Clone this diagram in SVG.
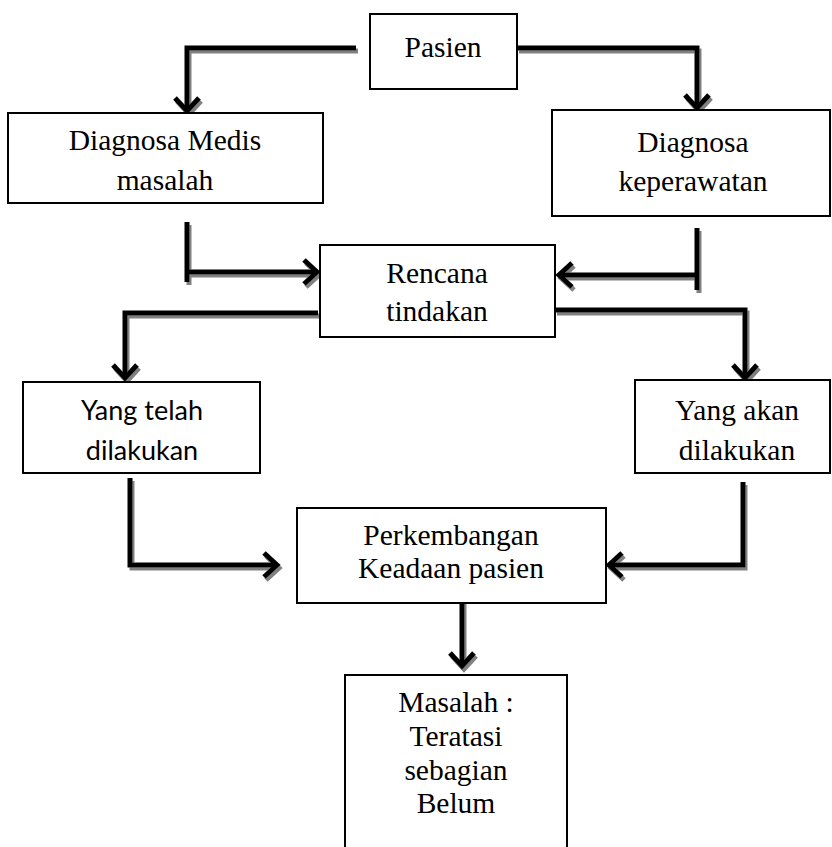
<svg xmlns="http://www.w3.org/2000/svg" width="832" height="847" viewBox="0 0 832 847">
<style>
.box{fill:#fff;stroke:#000;stroke-width:2}
.t{font-family:"Liberation Serif","Times New Roman",serif;font-size:29.5px;fill:#000;text-anchor:middle}
.s{font-family:Lato,"Open Sans",sans-serif;font-size:27px;fill:#000;text-anchor:middle}
.c path{fill:none;stroke:#000;stroke-width:5}
</style>
<defs>
<filter id="sh" x="-20%" y="-20%" width="140%" height="140%">
<feDropShadow dx="2" dy="3" stdDeviation="0.7" flood-color="#808080" flood-opacity="1"/>
</filter>
</defs>
<rect width="832" height="847" fill="#fff"/>
<g id="connectors" class="c" filter="url(#sh)">
<path d="M356,48 H187 V110"/><path d="M175,98 L187,111 L199,98"/>
<path d="M517,48 H697 V107"/><path d="M685,95 L697,108 L709,95"/>
<path d="M187,222 V282"/><path d="M187,272 H316"/><path d="M304,260 L317,272 L304,284"/>
<path d="M697,228 V290"/><path d="M697,275 H560"/><path d="M572,263 L559,275 L572,287"/>
<path d="M318,313 H125 V377"/><path d="M113,365 L125,378 L137,365"/>
<path d="M555,310 H745 V377"/><path d="M733,365 L745,378 L757,365"/>
<path d="M130,478 V565 H276"/><path d="M264,553 L277,565 L264,577"/>
<path d="M743,482 V565 H610"/><path d="M622,553 L609,565 L622,577"/>
<path d="M462,597 V665"/><path d="M450,653 L462,666 L474,653"/>
</g>
<g id="pasien"><rect class="box" x="370" y="14" width="147" height="75"/><text class="t" x="443" y="57">Pasien</text></g>
<g id="medis"><rect class="box" x="8" y="113" width="315" height="90"/><text class="t" x="165" y="150">Diagnosa Medis</text><text class="t" x="165" y="190">masalah</text></g>
<g id="keperawatan"><rect class="box" x="552" y="110" width="278" height="106"/><text class="t" x="693" y="152">Diagnosa</text><text class="t" x="693" y="191">keperawatan</text></g>
<g id="rencana"><rect class="box" x="320" y="245" width="235" height="92"/><text class="t" x="437" y="283">Rencana</text><text class="t" x="437" y="321">tindakan</text></g>
<g id="telah"><rect class="box" x="23" y="382" width="237" height="91"/><text class="s" x="142" y="420">Yang telah</text><text class="s" x="142" y="460">dilakukan</text></g>
<g id="akan"><rect class="box" x="635" y="380" width="195" height="93"/><text class="t" x="737" y="420">Yang akan</text><text class="t" x="737" y="460">dilakukan</text></g>
<g id="perkembangan"><rect class="box" x="297" y="508" width="309" height="95"/><text class="t" x="451" y="545">Perkembangan</text><text class="t" x="451" y="578">Keadaan pasien</text></g>
<g id="masalah"><rect class="box" x="345" y="675" width="222" height="190"/><text class="t" x="456" y="712">Masalah :</text><text class="t" x="456" y="746">Teratasi</text><text class="t" x="456" y="780">sebagian</text><text class="t" x="456" y="813">Belum</text></g>
</svg>
